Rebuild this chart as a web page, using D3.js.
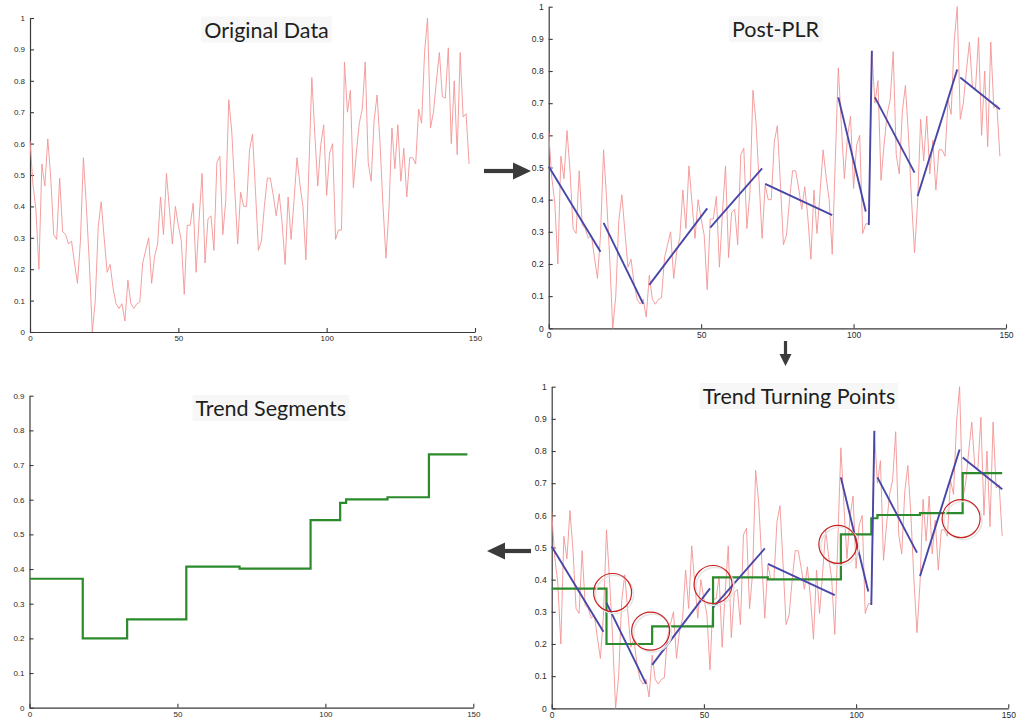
<!DOCTYPE html>
<html>
<head>
<meta charset="utf-8">
<script src="https://cdn.jsdelivr.net/npm/d3@7"></script>
<style>
  html, body { margin: 0; padding: 0; background: #fff; }
  svg { display: block; }
</style>
</head>
<body>
<svg id="fig" width="1016" height="728"></svg>
<script>
// Normalised time series (one value per sample index 0..148)
const series = [
  0.61, 0.47, 0.39, 0.20, 0.535, 0.465, 0.615, 0.49, 0.31, 0.295,
  0.49, 0.32, 0.31, 0.28, 0.29, 0.22, 0.155, 0.29, 0.555, 0.40,
  0.22, 0.0, 0.10, 0.335, 0.415, 0.30, 0.19, 0.215, 0.14, 0.09,
  0.075, 0.09, 0.035, 0.165, 0.09, 0.075, 0.09, 0.095, 0.22, 0.26,
  0.30, 0.155, 0.24, 0.28, 0.43, 0.31, 0.505, 0.39, 0.28, 0.40,
  0.34, 0.29, 0.12, 0.34, 0.34, 0.41, 0.19, 0.36, 0.505, 0.22,
  0.36, 0.37, 0.26, 0.54, 0.56, 0.31, 0.42, 0.74, 0.64, 0.46,
  0.28, 0.445, 0.40, 0.40, 0.58, 0.63, 0.45, 0.26, 0.29, 0.40,
  0.49, 0.49, 0.435, 0.37, 0.44, 0.345, 0.215, 0.43, 0.295, 0.42,
  0.555, 0.47, 0.40, 0.23, 0.52, 0.81, 0.63, 0.465, 0.595, 0.66,
  0.435, 0.57, 0.60, 0.295, 0.325, 0.325, 0.86, 0.70, 0.77, 0.46,
  0.57, 0.665, 0.71, 0.86, 0.54, 0.48, 0.675, 0.755, 0.60, 0.40,
  0.235, 0.39, 0.65, 0.52, 0.66, 0.48, 0.585, 0.43, 0.555, 0.555,
  0.535, 0.71, 0.665, 0.89, 1.0, 0.65, 0.70, 0.80, 0.89, 0.75,
  0.745, 0.905, 0.60, 0.80, 0.565, 0.89, 0.685, 0.695, 0.535
];

// Piecewise linear representation: one fitted line per segment
const plrStartX = [0, 18, 33, 53, 71, 95, 105, 107, 121, 135];
const plrStartY = [0.503, 0.328, 0.135, 0.313, 0.449, 0.718, 0.321, 0.718, 0.411, 0.780];
const plrEndX   = [17, 31, 52, 70, 93, 104, 106, 120, 134, 148];
const plrEndY   = [0.238, 0.076, 0.373, 0.497, 0.352, 0.363, 0.863, 0.484, 0.805, 0.681];

// Trend segment levels (step function)
const stepStart = [0, 18, 33, 53, 71, 95, 105, 107, 121, 135];
const stepLevel = [0.372, 0.200, 0.255, 0.407, 0.401, 0.541, 0.591, 0.601, 0.607, 0.731];
const stepEnd = 148;

// Detected trend turning points
const turnX = [20, 32.5, 53, 94, 134.5];
const turnY = [0.36, 0.24, 0.385, 0.51, 0.59];

// Axis ticks
const xTicks = [0, 50, 100, 150];
const yTicksUnit = [0, 0.1, 0.2, 0.3, 0.4, 0.5, 0.6, 0.7, 0.8, 0.9, 1];
const yTicksSeg = [0, 0.1, 0.2, 0.3, 0.4, 0.5, 0.6, 0.7, 0.8, 0.9];

// Panel titles
const titles = ["Original Data", "Post-PLR", "Trend Turning Points", "Trend Segments"];

const COLORS = {
  raw: "#f39494",
  plr: "#4747a8",
  step: "#2b8a2b",
  circle: "#c8201e",
  axis: "#3a3a3a",
  arrow: "#3b3b3b"
};

const svg = d3.select("#fig");

// Panel layout
const panels = [
  { title: titles[0], xr: [30, 475], yr: [332, 18], yd: [0, 1], yt: yTicksUnit,
    tx: 266.5, ty: 37.5, raw: true, plr: false, step: false, turns: false, fs: 8, xpad: 3 },
  { title: titles[1], xr: [548.7, 1006], yr: [328.3, 6.7], yd: [0, 1], yt: yTicksUnit,
    tx: 775.5, ty: 37.3, raw: true, plr: true, step: false, turns: false, fs: 8.5, xpad: 4 },
  { title: titles[2], xr: [551.7, 1008.3], yr: [708.3, 386.7], yd: [0, 1], yt: yTicksUnit,
    tx: 799, ty: 404, raw: true, plr: true, step: true, turns: true, fs: 8.5, xpad: 4 },
  { title: titles[3], xr: [29.5, 473.3], yr: [707.7, 395.7], yd: [0, 0.9], yt: yTicksSeg,
    tx: 270.8, ty: 416, raw: false, plr: false, step: true, turns: false, fs: 8, xpad: 4 }
];

const fmt = d3.format("~g");

panels.forEach(p => {
  const x = d3.scaleLinear().domain([0, 150]).range(p.xr);
  const y = d3.scaleLinear().domain(p.yd).range(p.yr);
  const g = svg.append("g");

  // Axes (left and bottom only, ticks pointing inward)
  const ax = g.append("g")
    .attr("transform", `translate(0,${p.yr[0]})`)
    .call(d3.axisBottom(x).tickValues(xTicks).tickFormat(fmt)
      .tickSizeInner(-4).tickSizeOuter(0).tickPadding(p.xpad));
  const ay = g.append("g")
    .attr("transform", `translate(${p.xr[0]},0)`)
    .call(d3.axisLeft(y).tickValues(p.yt).tickFormat(fmt)
      .tickSizeInner(-4).tickSizeOuter(0).tickPadding(5));
  [ax, ay].forEach(a => {
    a.select(".domain").attr("stroke", COLORS.axis).attr("stroke-width", 1.2);
    a.selectAll(".tick line").attr("stroke", COLORS.axis).attr("stroke-width", 1.1);
    a.selectAll(".tick text")
      .attr("fill", "#2a2a2a")
      .style("font-family", "'Liberation Sans', Arial, sans-serif")
      .style("font-size", p.fs + "px");
  });

  // Raw series
  if (p.raw) {
    g.append("path")
      .datum(series)
      .attr("fill", "none")
      .attr("stroke", COLORS.raw)
      .attr("stroke-width", 0.9)
      .attr("stroke-linejoin", "round")
      .attr("d", d3.line().x((d, i) => x(i)).y(d => y(d)));
  }

  // Step function of trend levels
  if (p.step) {
    const pts = stepStart.map((s, i) => [s, stepLevel[i]]);
    pts.push([stepEnd, stepLevel[stepLevel.length - 1]]);
    g.append("path")
      .datum(pts)
      .attr("fill", "none")
      .attr("stroke", COLORS.step)
      .attr("stroke-width", 2.2)
      .attr("d", d3.line().x(d => x(d[0])).y(d => y(d[1])).curve(d3.curveStepAfter));
  }

  // PLR fitted segments
  if (p.plr) {
    const segs = plrStartX.map((s, i) => [[s, plrStartY[i]], [plrEndX[i], plrEndY[i]]]);
    g.selectAll("path.plr")
      .data(segs)
      .join("path")
      .attr("class", "plr")
      .attr("fill", "none")
      .attr("stroke", COLORS.plr)
      .attr("stroke-width", 1.9)
      .attr("d", d3.line().x(d => x(d[0])).y(d => y(d[1])));
  }

  // Turning point markers
  if (p.turns) {
    const tp = turnX.map((t, i) => [t, turnY[i]]);
    g.selectAll("circle.shadow")
      .data(tp)
      .join("circle")
      .attr("class", "shadow")
      .attr("cx", d => x(d[0]) + 2)
      .attr("cy", d => y(d[1]) + 2)
      .attr("r", 19)
      .attr("fill", "none")
      .attr("stroke", "#e6e6e6")
      .attr("stroke-width", 1.6);
    g.selectAll("circle.turn")
      .data(tp)
      .join("circle")
      .attr("class", "turn")
      .attr("cx", d => x(d[0]))
      .attr("cy", d => y(d[1]))
      .attr("r", 19)
      .attr("fill", "none")
      .attr("stroke", COLORS.circle)
      .attr("stroke-width", 1.2);
  }

  // Title with a faint text-box background
  const tg = g.append("g");
  const t = tg.append("text")
    .attr("x", p.tx)
    .attr("y", p.ty)
    .attr("text-anchor", "middle")
    .attr("fill", "#1e1e1e")
    .style("font-family", "Lato, 'Open Sans', sans-serif")
    .style("font-size", "21.5px")
    .text(p.title);
  const bb = t.node().getBBox();
  tg.insert("rect", "text")
    .attr("x", bb.x - 3)
    .attr("y", bb.y)
    .attr("width", bb.width + 6)
    .attr("height", bb.height)
    .attr("fill", "#f7f7f7");
});

// Flow arrows between panels
function arrow(x1, y1, x2, y2, shaft, headLen, headW) {
  const a = Math.atan2(y2 - y1, x2 - x1);
  const ca = Math.cos(a), sa = Math.sin(a);
  const bx = x2 - headLen * ca, by = y2 - headLen * sa;
  svg.append("line")
    .attr("x1", x1).attr("y1", y1).attr("x2", bx + ca).attr("y2", by + sa)
    .attr("stroke", COLORS.arrow).attr("stroke-width", shaft);
  svg.append("path")
    .attr("d", `M${x2},${y2} L${bx - headW / 2 * sa},${by + headW / 2 * ca} L${bx + headW / 2 * sa},${by - headW / 2 * ca} Z`)
    .attr("fill", COLORS.arrow);
}
arrow(484, 171, 531, 171, 4.2, 18, 17);
arrow(785.5, 341, 785.5, 366, 3.2, 12, 12);
arrow(531, 551, 487, 551, 4.2, 18, 17);
</script>
</body>
</html>
